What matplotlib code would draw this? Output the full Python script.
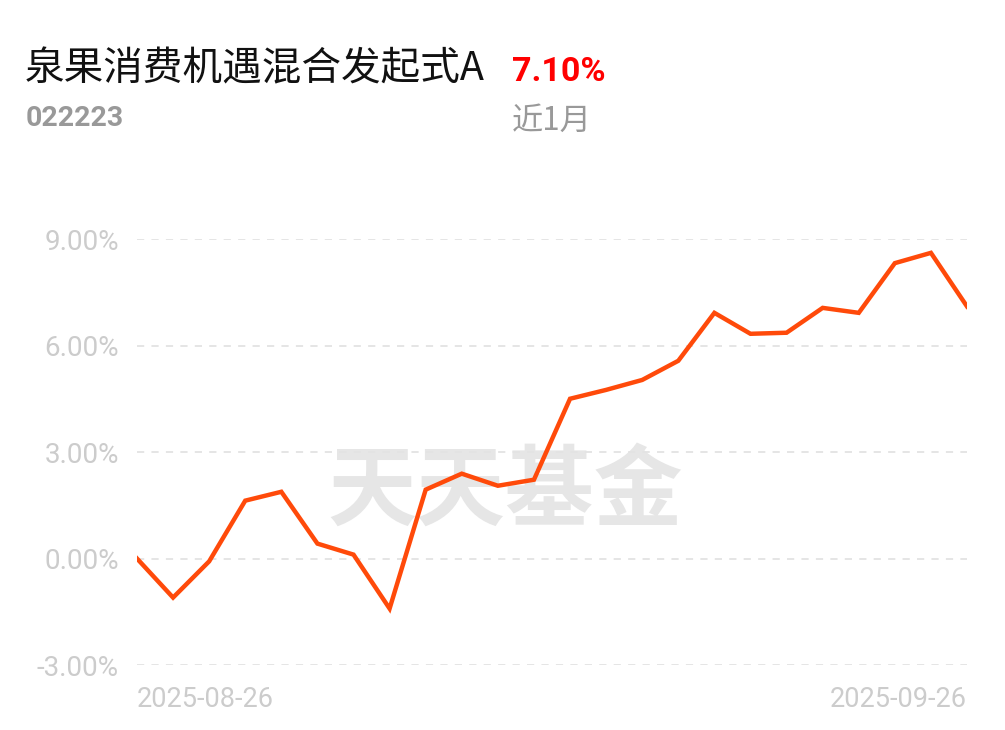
import matplotlib.pyplot as plt

plt.rcParams['font.family'] = ['Roboto', 'Noto Sans CJK SC', 'DejaVu Sans']

# 数据（近1月累计收益率, %）
dates = ['2025-08-26', '2025-09-26']
returns = [0.00, -1.10, -0.08, 1.63, 1.88, 0.42, 0.11, -1.41, 1.94, 2.39, 2.05, 2.22,
           4.50, 4.75, 5.03, 5.57, 6.92, 6.33, 6.36, 7.06, 6.92, 8.32, 8.61, 7.10]
yticks = [-3, 0, 3, 6, 9]
fund_name = '泉果消费机遇混合发起式A'
fund_code = '022223'
period_ret = '7.10%'
period_name = '近1月'

fig = plt.figure(figsize=(10.05, 7.30), dpi=100)
ax = fig.add_axes([0.1363, 0.089, 0.8259, 0.5836])

# 水印
ax.text(0.443, 0.405, '天天基金', transform=ax.transAxes, ha='center', va='center',
        fontsize=64, fontweight='bold', color='#e6e6e6', family=['Noto Sans CJK SC'], zorder=0)

xs = list(range(len(returns)))
ax.plot(xs, returns, color='#ff4a0a', lw=3.2, solid_joinstyle='miter', zorder=3)

ax.set_xlim(0, len(returns) - 1)
ax.set_ylim(-3, 9)
ax.set_yticks(yticks)
ax.set_yticklabels(['%.2f%%' % v for v in yticks])
ax.grid(axis='y', linestyle=(0, (4, 4)), color='#e3e3e3', lw=1.3)
ax.set_axisbelow(True)
for s in ax.spines.values():
    s.set_visible(False)
ax.tick_params(axis='y', length=0, pad=13, labelsize=20, labelcolor='#cccccc')
ax.set_xticks([0, len(returns) - 1])
ax.set_xticklabels(dates)
ax.tick_params(axis='x', length=0, pad=15, labelsize=19.5, labelcolor='#cccccc')
lbls = ax.get_xticklabels()
lbls[0].set_ha('left')
lbls[1].set_ha('right')

# 标题
fig.text(0.025, 0.905, fund_name, fontsize=28.5, color='#111111', va='center',
         family=['Noto Sans CJK SC'])
fig.text(0.509, 0.902, period_ret, fontsize=24.5, fontweight='bold', color='#ff0000', va='center')
fig.text(0.025, 0.838, fund_code, fontsize=20.5, fontweight='bold', color='#999999', va='center')
fig.text(0.509, 0.835, period_name, fontsize=22.5, color='#999999', va='center',
         family=['Noto Sans CJK SC'])

plt.savefig('out.png', dpi=100)
